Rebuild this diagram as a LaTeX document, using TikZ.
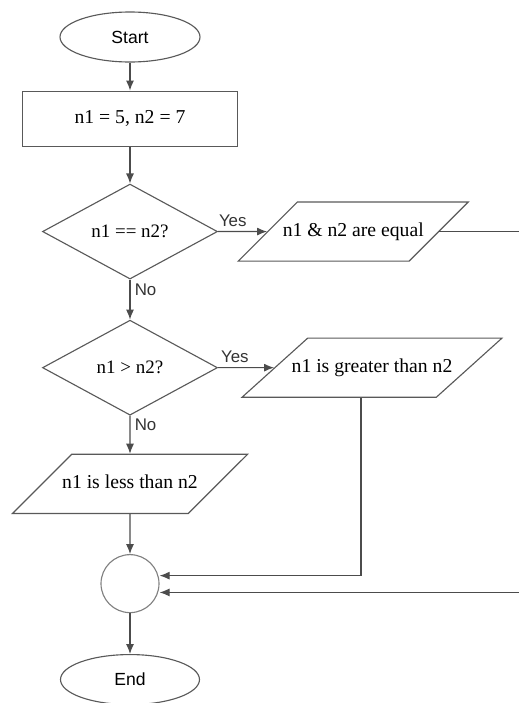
\documentclass[tikz,border=0pt]{standalone}
\usepackage{fontspec}
\setmainfont{Liberation Serif}
\setsansfont{Liberation Sans}
\usetikzlibrary{shapes.geometric,arrows.meta,positioning,calc}

\begin{document}
\begin{tikzpicture}
    \tikzstyle{term} = [ellipse, draw=black!65, line width=0.8pt, minimum width=3.5cm, minimum height=1.25cm, font=\sffamily\fontsize{12.5}{15}\selectfont]
    \tikzstyle{proc} = [rectangle, draw=black!65, line width=0.8pt, minimum width=5.375cm, minimum height=1.375cm, font=\fontsize{14}{17}\selectfont]
    \tikzstyle{decision} = [diamond, draw=black!65, line width=0.8pt, minimum width=4.375cm, minimum height=2.375cm, inner sep=0pt, font=\fontsize{13.5}{16}\selectfont]
    \tikzstyle{io} = [trapezium, trapezium stretches body=true, draw=black!65, line width=0.8pt, text height=0.36cm, text depth=0.12cm, inner ysep=0.5cm, inner xsep=-0.6cm, font=\fontsize{14}{17}\selectfont]
    \tikzstyle{mergept} = [circle, draw=black!50, line width=0.8pt, minimum size=1.45cm]
    \tikzstyle{arr} = [line width=0.8pt, draw=black!70, -{Latex[length=2.5mm, width=2mm]}]
    \tikzstyle{lbl} = [font=\sffamily\fontsize{12}{14}\selectfont, inner sep=3pt, text=black!80]

    \useasboundingbox (-3.25,0.925) rectangle (9.7,-16.65);

    \node [term] (start) {Start};
    \node [proc, below=0.7cm of start] (init) {n1 = 5, n2 = 7};
    \node [decision, below=0.92cm of init] (eq) {n1 == n2?};
    \node [io, trapezium left angle=45, trapezium right angle=135, minimum width=5.75cm, right=1.225cm of eq] (equal) {n1 \& n2 are equal};
    \node [decision, below=1.0cm of eq] (gt) {n1 > n2?};
    \node [io, trapezium left angle=42, trapezium right angle=138, minimum width=6.5cm, right=1.4cm of gt] (greater) {n1 is greater than n2};
    \node [io, trapezium left angle=45, trapezium right angle=135, minimum width=5.875cm, below=0.95cm of gt] (less) {n1 is less than n2};
    \node [mergept, below=1.0cm of less] (merge) {};
    \node [term, minimum width=3.475cm, minimum height=1.25cm, below=1.02cm of merge] (stop) {End};

    \draw [arr] (start) -- (init);
    \draw [arr] (init) -- (eq);
    \draw [arr] (eq) -- node [lbl, above, pos=0.3] {Yes} (equal);
    \draw [arr] (eq) -- node [lbl, right, pos=0.25] {No} (gt);
    \draw [arr] (gt) -- node [lbl, above, pos=0.3] {Yes} (greater);
    \draw [arr] (gt) -- node [lbl, right, pos=0.25] {No} (less);
    \draw [arr] (less) -- (merge);
    \draw [arr] ([xshift=-0.275cm]greater.south) |- ([yshift=0.2cm]merge.east);
    \draw [arr] (equal.east) -- ++(3,0) |- ([yshift=-0.22cm]merge.east);
    \draw [arr] (merge) -- (stop);
\end{tikzpicture}
\end{document}
